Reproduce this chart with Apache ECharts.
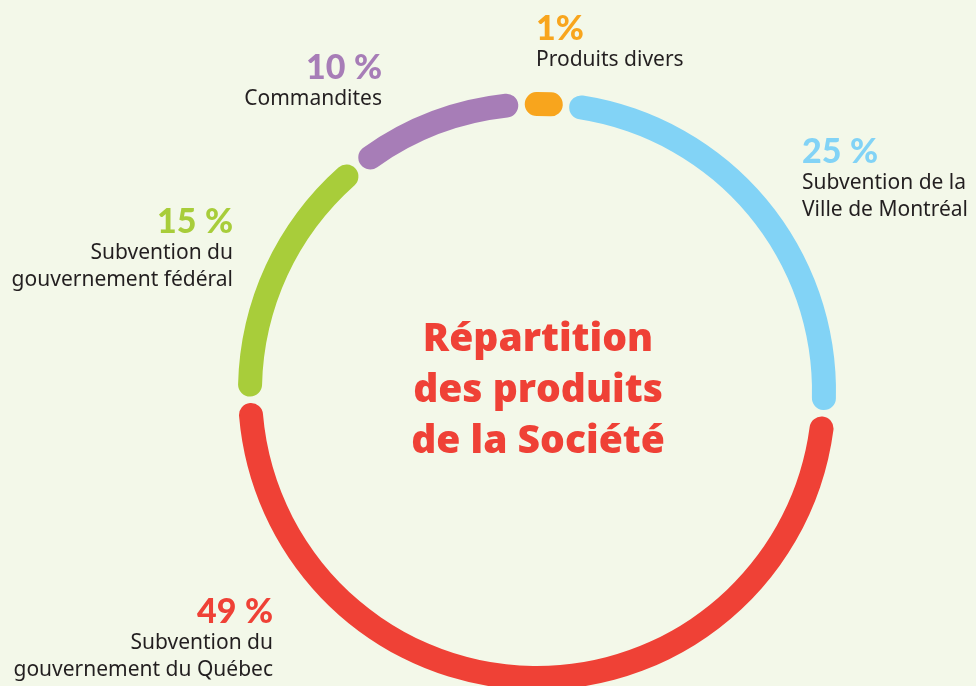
<!DOCTYPE html>
<html><head><meta charset="utf-8">
<script src="https://cdn.jsdelivr.net/npm/echarts@6/dist/echarts.min.js"></script>
<style>html,body{margin:0;padding:0;background:#f3f8e9;}#c{width:976px;height:686px;}</style>
</head><body><div id="c"></div>
<script>
// Data
const categories = ['Produits divers', 'Subvention de la Ville de Montréal', 'Subvention du gouvernement du Québec', 'Subvention du gouvernement fédéral', 'Commandites'];
const values = [1, 25, 49, 15, 10];
const percentLabels = ['1%', '25\u202F%', '49\u202F%', '15\u202F%', '10\u202F%'];
const labelLines = [
  ['Produits divers'],
  ['Subvention de la', 'Ville de Montréal'],
  ['Subvention du', 'gouvernement du Québec'],
  ['Subvention du', 'gouvernement fédéral'],
  ['Commandites']
];
const titleLines = ['Répartition', 'des produits', 'de la Société'];

// Style / layout
const colors = ['#f8a51d', '#82d3f6', '#ef4136', '#a8cd3a', '#a77db7'];
const labelAnchors = [
  {x: 536, base: 39, align: 'left'},
  {x: 802, base: 162, align: 'left'},
  {x: 273, base: 622, align: 'right'},
  {x: 233, base: 232, align: 'right'},
  {x: 382, base: 78, align: 'right'}
];

const chart = echarts.init(document.getElementById('c'));
const graphics = values.map((v, i) => {
  const a = labelAnchors[i];
  const txt = '{p|' + percentLabels[i] + '}\n' + labelLines[i].map(l => '{t|' + l + '}').join('\n');
  return {
    type: 'text', x: a.x, y: a.base - 27, silent: true,
    style: {
      text: txt, align: a.align, verticalAlign: 'top',
      rich: {
        p: {fontFamily: 'Lato', fontWeight: 900, fontSize: 34, lineHeight: 35, fill: colors[i], align: a.align},
        t: {fontFamily: 'Noto Sans', fontSize: 21, lineHeight: 27, fill: '#231f20', align: a.align}
      }
    }
  };
});
graphics.push({
  type: 'text', x: 538, y: 314, silent: true,
  style: {
    text: titleLines.join('\n'), align: 'center', verticalAlign: 'top',
    fontFamily: 'Open Sans', fontWeight: 800, fontSize: 39, lineHeight: 51, fill: '#ef4136'
  }
});

chart.setOption({
  backgroundColor: '#f3f8e9',
  animation: false,
  graphic: graphics,
  series: [{
    type: 'pie',
    center: [537, 391],
    radius: [275, 299],
    startAngle: 93.1,
    clockwise: true,
    minAngle: 7.6,
    padAngle: 1.3,
    avoidLabelOverlap: false,
    label: {show: false},
    labelLine: {show: false},
    emphasis: {disabled: true},
    itemStyle: {borderRadius: 12, borderWidth: 0},
    data: categories.map((c, i) => ({name: c, value: values[i], itemStyle: {color: colors[i]}}))
  }]
});
</script></body></html>
